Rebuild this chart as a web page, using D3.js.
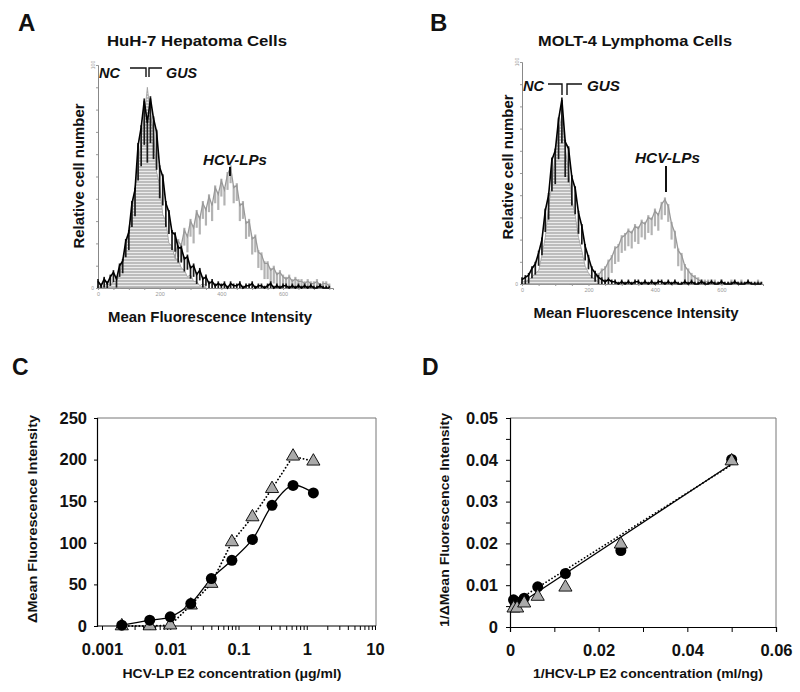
<!DOCTYPE html>
<html>
<head>
<meta charset="utf-8">
<script src="https://cdn.jsdelivr.net/npm/d3@7"></script>
<style>
  body { margin: 0; background: #fff; }
  text { font-family: "Liberation Sans", Arial, sans-serif; }
</style>
</head>
<body>
<svg id="fig" width="800" height="692"></svg>
<script>
// flow cytometry histograms, % of full scale, one value per 10-unit channel bin
var binWidth = 10;
var gusA = [3,1,4,2,5,7,4,10,12,21, 25,38,44,64,72,84,74,85,76,70, 54,50,38,34,25,24,18,18,13,14,
  9,10,6,8,4,5,2,3,1,2, 1,2,0,2,1,1,2,0,1,1, 2,0,1,1,0,1,2,0,1,0, 1,1,0,1,0,1,0,1,0,1, 0,0,1,0,0,0];
var ncA = [1,0,1,2,1,3,3,6,13,17, 27,34,45,54,68,76,90,78,70,52, 46,33,30,20,19,13,13,9,8,5, 6,3,3,1,2,1];
var hcvA = [0,0,0,0,0,0,1,0,1,1, 2,1,3,2,4,3,5,4,7,6, 9,8,12,11,16,14,21,19,26,23, 30,27,34,31,38,35,41,37,45,42,
  48,44,51,54,45,46,37,38,29,30, 22,23,16,15,11,11,8,9,6,7, 5,4,5,3,4,3,3,2,3,2, 2,3,1,2,2,1];

var gusB = [2,3,4,7,9,14,20,33,40,56, 60,74,83,64,61,48,43,32,26,17, 12,7,5,3,2,1,2,1,1,0,
  1,0,1,0,1,1,0,1,0,1, 0,1,1,0,1,0,1,0,0,1, 0,1,0,0,1,0,0,1,0,0, 1,0,0,0,1,0,0,0,1,0, 0,0,0];
var ncB = [1,1,2,3,5,6,13,21,35,45, 59,68,76,61,51,38,31,21,15,8, 5,3,2,1];
var hcvB = [0,0,0,0,0,0,0,0,0,0, 0,0,0,0,0,1,0,1,1,1, 1,2,3,4,6,7,10,12,16,17, 21,22,24,23,26,25,28,27,30,29,
  33,31,36,38,35,27,23,15,13,8, 6,4,3,2,1,1,1,0,1,0, 1,0,0,1,0,0,1,0,0,0, 0,1,0];
var histXTicks = [0, 200, 400, 600];

// panel C: dose response
var concC = [0.00195, 0.005, 0.01, 0.02, 0.04, 0.08, 0.16, 0.31, 0.63, 1.25];
var circlesC = [1, 7, 11, 27, 57, 79, 104, 145, 169, 160];
var trianglesC = [0, 0, 1, 25, 51, 101, 131, 165, 204, 198];
var yTicksC = [0, 50, 100, 150, 200, 250];
var decadesC = [0.001, 0.01, 0.1, 1, 10];

// panel D: double reciprocal
var invConcD = [0.0008, 0.0016, 0.0032, 0.00625, 0.0125, 0.025, 0.05];
var circlesD = [0.0065, 0.006, 0.0069, 0.0096, 0.0128, 0.0183, 0.0401];
var trianglesD = [0.0045, 0.0045, 0.0057, 0.0073, 0.0095, 0.0198, 0.0397];
var solidFitD = [[0.0008, 0.0046], [0.05, 0.039]];
var dottedFitD = [[0.0008, 0.0058], [0.05, 0.0388]];
var xTicksD = [0, 0.01, 0.02, 0.03, 0.04, 0.05, 0.06];
var xLabelsD = [0, 0.02, 0.04, 0.06];
var yTicksD = [0, 0.005, 0.01, 0.015, 0.02, 0.025, 0.03, 0.035, 0.04, 0.045, 0.05];

var svg = d3.select('#fig');

var defs = svg.append('defs');
var pat = defs.append('pattern').attr('id', 'hatch').attr('patternUnits', 'userSpaceOnUse')
  .attr('width', 4).attr('height', 3);
pat.append('rect').attr('width', 4).attr('height', 3).attr('fill', '#bdbdbd');
pat.append('rect').attr('width', 4).attr('height', 1).attr('fill', '#ececec');

function label(x, y, txt, size, weight, style) {
  return svg.append('text').attr('x', x).attr('y', y).text(txt)
    .attr('font-size', size).attr('font-weight', weight || 'bold')
    .attr('font-style', style || 'normal').attr('fill', '#111');
}
// stretched text to a given length (the figure's lettering is wide)
function wide(sel, len) {
  return sel.attr('textLength', len).attr('lengthAdjust', 'spacingAndGlyphs');
}
function vlabel(x, y, txt, size, len) {
  return wide(svg.append('text').attr('transform', 'translate(' + x + ',' + y + ') rotate(-90)')
    .attr('text-anchor', 'middle').attr('font-size', size).attr('font-weight', 'bold')
    .attr('fill', '#111').text(txt), len);
}

function histogram(o) {
  var g = svg.append('g');
  var x = d3.scaleLinear().domain([0, o.xMax]).range([o.left, o.right]);
  var y = d3.scaleLinear().domain([0, 100]).range([o.bottom, o.top]);
  var bx = function(d, i) { return x(i * binWidth); };

  var xAxis = g.append('g').attr('transform', 'translate(0,' + o.bottom + ')')
    .call(d3.axisBottom(x).tickValues(d3.range(0, o.xMax, 50)).tickSize(2).tickPadding(2)
      .tickFormat(function(d) { return histXTicks.indexOf(d) >= 0 ? d : ''; }));
  var yAxis = g.append('g').attr('transform', 'translate(' + o.left + ',0)')
    .call(d3.axisLeft(y).tickValues(d3.range(0, 101, 10)).tickSize(2).tickFormat(''));
  g.selectAll('.domain').attr('stroke', '#888');
  g.selectAll('.tick line').attr('stroke', '#999');
  g.selectAll('.tick text').attr('font-size', 5.5).attr('fill', '#999');
  g.append('text').attr('x', o.left - 4).attr('y', o.bottom + 2).attr('text-anchor', 'end')
    .attr('font-size', 5).attr('fill', '#999').text('0');
  g.append('text').attr('transform', 'translate(' + (o.left - 3) + ',' + o.top + ') rotate(-90)')
    .attr('text-anchor', 'middle').attr('font-size', 5).attr('fill', '#999').text('100');

  // HCV-LPs trace, gray noisy band
  g.append('g').selectAll('line').data(o.hcv).enter().append('line')
    .attr('x1', bx).attr('x2', bx)
    .attr('y1', function(d) { return y(Math.max(0, d - 7)); }).attr('y2', function(d) { return y(d + 1); })
    .attr('stroke', '#b3b3b3').attr('stroke-width', 2.2);
  g.append('path').datum(o.hcv).attr('fill', 'none').attr('stroke', '#999').attr('stroke-width', 1.3)
    .attr('d', d3.line().x(bx).y(function(d) { return y(d); }));

  // NC, hatched fill
  g.append('path').datum(o.nc).attr('fill', 'url(#hatch)').attr('stroke', '#9a9a9a').attr('stroke-width', 0.8)
    .attr('d', d3.area().x(bx).y0(o.bottom).y1(function(d) { return y(d); }));

  // GUS trace, black noisy band
  g.append('g').selectAll('line').data(o.gus).enter().append('line')
    .attr('x1', bx).attr('x2', bx)
    .attr('y1', function(d) { return y(Math.max(0, d * 0.8 - 3)); }).attr('y2', function(d) { return y(d + 1); })
    .attr('stroke', '#1a1a1a').attr('stroke-width', 1.7);
  g.append('path').datum(o.gus).attr('fill', 'none').attr('stroke', '#000').attr('stroke-width', 1.6)
    .attr('d', d3.line().x(bx).y(function(d) { return y(d); }));
  return { x: x, y: y };
}

// ---- panel A ----
label(18, 31, 'A', 24);
wide(label(197, 46, 'HuH-7 Hepatoma Cells', 15).attr('text-anchor', 'middle'), 180);
histogram({ left: 98, right: 333, top: 65, bottom: 288, xMax: 762, gus: gusA, nc: ncA, hcv: hcvA });
vlabel(84, 176, 'Relative cell number', 14, 145);
wide(label(210, 322, 'Mean Fluorescence Intensity', 14).attr('text-anchor', 'middle'), 204);
wide(label(99, 78, 'NC', 14, 'bold', 'italic'), 21);
wide(label(166, 78, 'GUS', 14, 'bold', 'italic'), 31);
svg.append('path').attr('d', 'M130,68H146V77M149,77V68H162').attr('fill', 'none').attr('stroke', '#111').attr('stroke-width', 1.4);
wide(label(203, 165, 'HCV-LPs', 14.5, 'bold', 'italic'), 64);
svg.append('line').attr('x1', 230).attr('x2', 230).attr('y1', 167).attr('y2', 176).attr('stroke', '#111').attr('stroke-width', 2);

// ---- panel B ----
label(430, 31, 'B', 24);
wide(label(635, 46, 'MOLT-4 Lymphoma Cells', 15).attr('text-anchor', 'middle'), 194);
histogram({ left: 522, right: 763, top: 62, bottom: 284, xMax: 725, gus: gusB, nc: ncB, hcv: hcvB });
vlabel(513, 167, 'Relative cell number', 14, 145);
wide(label(636, 318, 'Mean Fluorescence Intensity', 14).attr('text-anchor', 'middle'), 205);
wide(label(523, 91, 'NC', 14, 'bold', 'italic'), 21);
wide(label(587, 91, 'GUS', 14, 'bold', 'italic'), 33);
svg.append('path').attr('d', 'M548,84H562V95M567,95V84H582').attr('fill', 'none').attr('stroke', '#111').attr('stroke-width', 1.4);
wide(label(635, 163, 'HCV-LPs', 14.5, 'bold', 'italic'), 65);
svg.append('line').attr('x1', 666).attr('x2', 666).attr('y1', 166).attr('y2', 192).attr('stroke', '#111').attr('stroke-width', 2);

function styleAxis(g) {
  g.selectAll('.domain').attr('stroke', '#000').attr('stroke-width', 1.2);
  g.selectAll('.tick line').attr('stroke', '#000');
  g.selectAll('.tick text').attr('font-size', 16.5).attr('font-weight', 'bold').attr('fill', '#111');
}

var tri = d3.symbol().type(d3.symbolTriangle).size(75);

// ---- panel C ----
label(12, 375, 'C', 23);
(function() {
  var left = 97, right = 376, top = 418, bottom = 626;
  var x = d3.scaleLog().domain([0.001, 10]).range([102, 375]);
  var y = d3.scaleLinear().domain([0, 250]).range([bottom, top]);
  var g = svg.append('g');
  g.append('path').attr('d', 'M' + left + ',' + top + 'H' + right + 'V' + bottom)
    .attr('fill', 'none').attr('stroke', '#777').attr('stroke-width', 1);
  var xa = g.append('g').attr('transform', 'translate(0,' + bottom + ')')
    .call(d3.axisBottom(x).tickValues(x.ticks()).tickSize(4).tickPadding(13)
      .tickFormat(function(d) { return decadesC.indexOf(d) >= 0 ? String(d) : ''; }));
  xa.select('.domain').attr('d', 'M' + left + ',0H' + right);
  styleAxis(xa);
  var ya = g.append('g').attr('transform', 'translate(' + left + ',0)')
    .call(d3.axisLeft(y).tickValues(yTicksC).tickSize(3).tickPadding(7));
  styleAxis(ya);

  var pts = concC.map(function(c, i) { return [x(c), y(circlesC[i]), y(trianglesC[i])]; });
  g.append('path').datum(pts).attr('fill', 'none').attr('stroke', '#000').attr('stroke-width', 1.8)
    .attr('stroke-dasharray', '0.1,3.4').attr('stroke-linecap', 'round')
    .attr('d', d3.line().x(function(d) { return d[0]; }).y(function(d) { return d[2]; }));
  g.append('path').datum(pts).attr('fill', 'none').attr('stroke', '#000').attr('stroke-width', 1.3)
    .attr('d', d3.line().curve(d3.curveCatmullRom.alpha(0.5)).x(function(d) { return d[0]; }).y(function(d) { return d[1]; }));
  g.selectAll('.tri').data(pts).enter().append('path')
    .attr('transform', function(d) { return 'translate(' + d[0] + ',' + d[2] + ')'; })
    .attr('d', tri).attr('fill', '#aaa').attr('stroke', '#000').attr('stroke-width', 0.9);
  g.selectAll('.dot').data(pts).enter().append('circle')
    .attr('cx', function(d) { return d[0]; }).attr('cy', function(d) { return d[1]; })
    .attr('r', 5.5).attr('fill', '#000');

  vlabel(37, 519, '\u0394Mean Fluorescence Intensity', 13, 208);
  wide(label(232, 678, 'HCV-LP E2 concentration (\u03bcg/ml)', 13).attr('text-anchor', 'middle'), 219);
})();

// ---- panel D ----
label(422, 375, 'D', 23);
(function() {
  var left = 510, right = 776, top = 418, bottom = 627;
  var x = d3.scaleLinear().domain([0, 0.06]).range([left, right]);
  var y = d3.scaleLinear().domain([0, 0.05]).range([bottom, top]);
  var g = svg.append('g');
  g.append('path').attr('d', 'M' + left + ',' + top + 'H' + right + 'V' + bottom)
    .attr('fill', 'none').attr('stroke', '#777').attr('stroke-width', 1);
  var xa = g.append('g').attr('transform', 'translate(0,' + bottom + ')')
    .call(d3.axisBottom(x).tickValues(xTicksD).tickSize(5).tickPadding(12)
      .tickFormat(function(d) { return xLabelsD.indexOf(d) >= 0 ? (d === 0 ? '0' : d3.format('.2f')(d)) : ''; }));
  styleAxis(xa);
  var ya = g.append('g').attr('transform', 'translate(' + left + ',0)')
    .call(d3.axisLeft(y).tickValues(yTicksD).tickSize(4).tickPadding(8)
      .tickFormat(function(d, i) { return i % 2 === 0 ? (d === 0 ? '0' : d3.format('.2f')(d)) : ''; }));
  styleAxis(ya);

  g.append('path').datum(dottedFitD).attr('fill', 'none').attr('stroke', '#000').attr('stroke-width', 1.7)
    .attr('stroke-dasharray', '0.1,3.4').attr('stroke-linecap', 'round')
    .attr('d', d3.line().x(function(d) { return x(d[0]); }).y(function(d) { return y(d[1]); }));
  g.append('path').datum(solidFitD).attr('fill', 'none').attr('stroke', '#000').attr('stroke-width', 1.3)
    .attr('d', d3.line().x(function(d) { return x(d[0]); }).y(function(d) { return y(d[1]); }));

  var pts = invConcD.map(function(c, i) { return [x(c), y(circlesD[i]), y(trianglesD[i])]; });
  g.selectAll('.dot').data(pts).enter().append('circle')
    .attr('cx', function(d) { return d[0]; }).attr('cy', function(d) { return d[1]; })
    .attr('r', 5.5).attr('fill', '#000');
  g.selectAll('.tri').data(pts).enter().append('path')
    .attr('transform', function(d) { return 'translate(' + d[0] + ',' + d[2] + ')'; })
    .attr('d', tri).attr('fill', '#aaa').attr('stroke', '#000').attr('stroke-width', 0.9);

  vlabel(449, 520, '1/\u0394Mean Fluorescence Intensity', 13, 214);
  wide(label(648, 678, '1/HCV-LP E2 concentration (ml/ng)', 13).attr('text-anchor', 'middle'), 230);
})();
</script>
</body>
</html>
